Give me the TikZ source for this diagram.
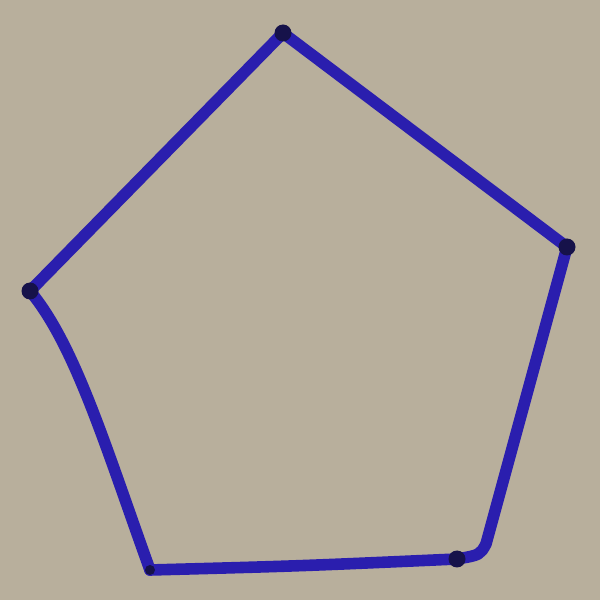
\documentclass[tikz,border=0pt]{standalone}
\usepackage{tikz}
\definecolor{paper}{HTML}{B8AF9C}
\definecolor{ink}{HTML}{2A1EAE}
\definecolor{inkdark}{HTML}{16124A}
\begin{document}
\begin{tikzpicture}
  \tikzset{
    edge/.style={ink, line width=3.3pt, line cap=round, line join=round},
    vertex/.style={circle, fill=inkdark, inner sep=0pt, minimum size=0.17cm}
  }
  % Paper
  \fill[paper] (0,0) rectangle (6,6);
  \useasboundingbox (0,0) rectangle (6,6);

  % Corners
  \coordinate (top) at (2.83,5.67);
  \coordinate (right) at (5.67,3.53);
  \coordinate (lowright) at (4.57,0.41);
  \coordinate (lowleft) at (1.50,0.30);
  \coordinate (left) at (0.30,3.09);

  % Sides
  \draw[edge] (top) -- (right);
  \draw[edge] (right) -- (4.86,0.56) .. controls (4.80,0.45) .. (lowright);
  \draw[edge] (lowright) .. controls (3.00,0.34) .. (lowleft);
  \draw[edge] (lowleft) .. controls (1.05,1.55) and (0.75,2.55) .. (left);
  \draw[edge] (left) -- (top);

  % Dots
  \node[vertex] (dtop) at (top) {};
  \node[vertex] (dright) at (right) {};
  \node[vertex] (dlowright) at (lowright) {};
  \node[vertex, minimum size=0.1cm] (dlowleft) at (lowleft) {};
  \node[vertex] (dleft) at (left) {};
\end{tikzpicture}
\end{document}
